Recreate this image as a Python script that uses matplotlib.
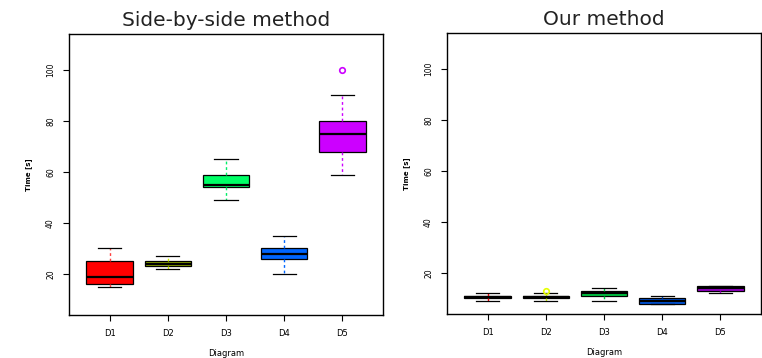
import matplotlib
matplotlib.use("Agg")
import matplotlib.pyplot as plt

categories = ["D1", "D2", "D3", "D4", "D5"]

# Side-by-side method
left_lo  = [15, 22, 49, 20, 59]
left_q1  = [16, 23, 54, 26, 68]
left_med = [19, 24, 55, 28, 75]
left_q3  = [25, 25, 59, 30, 80]
left_hi  = [30, 27, 65, 35, 90]
left_fliers = [[], [], [], [], [100]]

# Our method
right_lo  = [9, 9, 9, 8, 12]
right_q1  = [10, 10, 11, 8, 13]
right_med = [10.5, 10.5, 12, 9, 14]
right_q3  = [11, 11, 13, 10, 15]
right_hi  = [12, 12, 14, 11, 15]
right_fliers = [[], [13], [], [], []]

left_fill = ["#FF0000", "#8FAA00", "#00FF66", "#0066FF", "#CC00FF"]
left_whisk = ["#FF4040", "#CCEE00", "#00EE66", "#0066FF", "#CC00FF"]
left_flier = ["#FF0000", "#CCEE00", "#00EE66", "#0066FF", "#CC00FF"]
right_fill = ["#CC0000", "#E6FF00", "#00CC44", "#0055DD", "#9900CC"]
right_whisk = ["#EE0000", "#CCEE00", "#00CC44", "#0055DD", "#CC00FF"]
right_flier = ["#CC0000", "#E6FF00", "#00CC44", "#0055DD", "#9900CC"]

yticks = [20, 40, 60, 80, 100]

fig = plt.figure(figsize=(7.62, 3.58), dpi=100)
ax1 = fig.add_axes([69/762, 1-315/358, 314/762, 281/358])
ax2 = fig.add_axes([447/762, 1-314/358, 314/762, 281/358])

def draw(ax, lo, q1, med, q3, hi, fliers, fills, whisks, fcols, title):
    stats = []
    for i in range(len(categories)):
        stats.append(dict(whislo=lo[i], q1=q1[i], med=med[i], q3=q3[i],
                          whishi=hi[i], fliers=fliers[i], label=categories[i]))
    pos = list(range(1, len(categories) + 1))
    b = ax.bxp(stats, positions=pos, widths=0.8, patch_artist=True,
               showfliers=True, capwidths=0.4,
               medianprops=dict(color="black", lw=1.6),
               boxprops=dict(edgecolor="black", lw=0.9),
               capprops=dict(color="black", lw=0.9))
    for i, p in enumerate(b["boxes"]):
        p.set_facecolor(fills[i])
    for i, w in enumerate(b["whiskers"]):
        w.set_color(whisks[i // 2])
        w.set_linestyle((0, (2, 2)))
        w.set_linewidth(1.0)
    for i, f in enumerate(b["fliers"]):
        f.set_marker("o")
        f.set_markerfacecolor("none")
        f.set_markeredgecolor(fcols[i])
        f.set_markersize(4)
        f.set_markeredgewidth(1.2)
    ax.set_xlim(0.3, 5.7)
    ax.set_ylim(3.92, 114.08)
    ax.set_yticks(yticks)
    ax.set_yticklabels([str(v) for v in yticks], rotation=90, va="center")
    ax.set_xticks(pos)
    ax.set_xticklabels(categories)
    ax.tick_params(axis="y", labelsize=5.5, length=4, width=0.8, pad=6)
    ax.tick_params(axis="x", labelsize=6, length=4, width=0.8, pad=6)
    ax.set_xlabel("Diagram", fontsize=6, labelpad=8)
    ax.set_ylabel("Time [s]", fontsize=5, fontweight="bold", labelpad=10)
    for s in ax.spines.values():
        s.set_linewidth(1.0)
    ax.set_title(title, fontsize=14.5, pad=6, color="#222222")

draw(ax1, left_lo, left_q1, left_med, left_q3, left_hi, left_fliers,
     left_fill, left_whisk, left_flier, "Side-by-side method")
draw(ax2, right_lo, right_q1, right_med, right_q3, right_hi, right_fliers,
     right_fill, right_whisk, right_flier, "Our method")

fig.savefig("out.png", dpi=100)
